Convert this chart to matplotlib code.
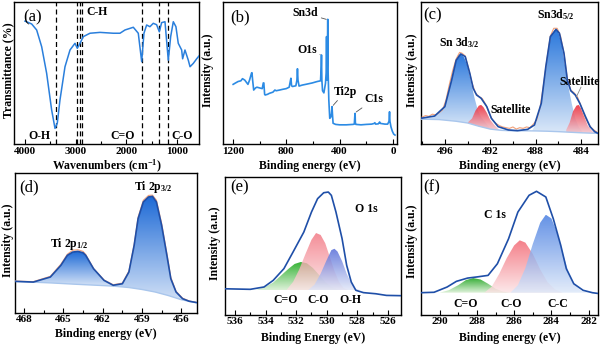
import numpy as np
import matplotlib
matplotlib.use("Agg")
import matplotlib.pyplot as plt
from matplotlib.colors import to_rgba
from matplotlib.patches import Polygon
from matplotlib.ticker import AutoMinorLocator

plt.rcParams.update({
    "font.family": "Liberation Serif",
    "font.weight": "bold",
    "mathtext.fontset": "custom",
    "mathtext.rm": "Liberation Serif:bold",
    "mathtext.bf": "Liberation Serif:bold",
    "mathtext.it": "Liberation Serif:bold:italic",
    "axes.linewidth": 1.0,
})

# ---------------- (a) FTIR ----------------
ftir_wn = [4000, 3967, 3868, 3770, 3671, 3573, 3474, 3408, 3363, 3310, 3211, 3112, 3014, 2968,
           2915, 2850, 2718, 2520, 2258, 2126, 2027, 1863, 1765, 1698, 1653, 1600, 1535, 1469,
           1403, 1350, 1304, 1238, 1173, 1126, 1074, 1022, 976, 909, 890, 844, 778, 744, 679,
           613, 567]
ftir_t = [0.865, 0.861, 0.845, 0.803, 0.685, 0.498, 0.239, 0.110, 0.146, 0.310, 0.544, 0.662,
          0.709, 0.674, 0.709, 0.756, 0.780, 0.786, 0.780, 0.780, 0.803, 0.822, 0.780, 0.580,
          0.780, 0.838, 0.826, 0.850, 0.840, 0.790, 0.855, 0.861, 0.590, 0.756, 0.861, 0.826,
          0.709, 0.662, 0.600, 0.662, 0.590, 0.544, 0.568, 0.600, 0.620]
ftir_marks = [3394, 2968, 2915, 2870, 1698, 1350, 1173]
ftir_groups = ["O-H", "C-H", "C=O", "C-O"]

# ---------------- (b) survey ----------------
surv_be = [1198, 1180, 1161, 1140, 1128, 1111, 1095, 1087, 1075, 1069, 1060, 1057, 1052, 1044,
           1030, 1020, 1000, 980, 972, 968, 962, 958, 940, 926, 900, 885, 876, 850, 827, 800,
           778, 768, 765, 760, 753, 728, 720, 716, 712, 704, 680, 654, 605, 568, 543, 538, 536,
           533, 528, 518, 506, 501, 498, 495, 492, 489, 486, 481, 474, 466, 461, 457, 453, 449,
           430, 400, 350, 300, 290, 286, 284, 282, 278, 240, 200, 160, 140, 136, 130, 110, 100,
           95, 60, 40, 30, 26, 23, 15, 5, -5, -15]
surv_int = [0.420, 0.430, 0.440, 0.445, 0.460, 0.450, 0.430, 0.420, 0.450, 0.470, 0.500, 0.502,
            0.450, 0.380, 0.395, 0.400, 0.395, 0.390, 0.430, 0.430, 0.350, 0.345, 0.350, 0.357,
            0.365, 0.380, 0.375, 0.380, 0.385, 0.390, 0.400, 0.450, 0.463, 0.410, 0.405, 0.410,
            0.450, 0.530, 0.450, 0.408, 0.415, 0.420, 0.430, 0.440, 0.445, 0.550, 0.627, 0.450,
            0.375, 0.360, 0.427, 0.500, 0.756, 0.450, 0.600, 0.878, 0.500, 0.310, 0.181, 0.190,
            0.216, 0.263, 0.200, 0.146, 0.138, 0.135, 0.135, 0.138, 0.140, 0.200, 0.216, 0.150,
            0.138, 0.135, 0.138, 0.140, 0.145, 0.150, 0.140, 0.142, 0.155, 0.145, 0.140, 0.140,
            0.160, 0.227, 0.160, 0.120, 0.090, 0.070, 0.063]

# ---------------- (c) Sn 3d ----------------
sn_env_x = [498.1, 496.9, 496.0, 495.4, 495.0, 494.6, 494.2, 493.8, 493.5, 493.2, 492.8, 492.3,
            491.9, 491.3, 490.4, 489.6, 488.7, 488.1, 487.5, 487.1, 486.7, 486.2, 485.9, 485.5,
            485.2, 484.9, 484.5, 484.1, 483.6, 483.2, 482.8, 482.5]
sn_env_y = [0.181, 0.197, 0.263, 0.450, 0.590, 0.634, 0.615, 0.498, 0.392, 0.345, 0.322, 0.263,
            0.181, 0.122, 0.099, 0.094, 0.103, 0.134, 0.286, 0.544, 0.756, 0.807, 0.780, 0.639,
            0.450, 0.375, 0.345, 0.286, 0.192, 0.122, 0.087, 0.075]
sn_raw_x = [498.0, 497.7, 497.4, 497.1, 496.8, 496.5, 496.2, 495.9, 495.6, 495.3, 495.0, 494.7,
            494.5, 494.2, 493.9, 493.6, 493.3, 493.0, 492.7, 492.4, 492.1, 491.8, 491.5, 491.2,
            490.9, 490.6, 490.3, 490.0, 489.7, 489.4, 489.1, 488.8, 488.5, 488.2, 487.9, 487.6,
            487.3, 487.0, 486.7, 486.4, 486.1, 485.8, 485.5, 485.2, 484.9, 484.6, 484.3, 484.0,
            483.7, 483.4, 483.1, 482.8, 482.6]
sn_raw_y = [0.190, 0.200, 0.195, 0.210, 0.205, 0.220, 0.240, 0.310, 0.420, 0.520, 0.600, 0.645,
            0.640, 0.620, 0.530, 0.430, 0.360, 0.335, 0.320, 0.280, 0.220, 0.170, 0.145, 0.130,
            0.120, 0.115, 0.110, 0.120, 0.105, 0.115, 0.110, 0.120, 0.115, 0.140, 0.170, 0.260,
            0.420, 0.600, 0.760, 0.815, 0.815, 0.760, 0.640, 0.460, 0.380, 0.360, 0.330, 0.270,
            0.200, 0.150, 0.115, 0.095, 0.085]
sn_bg_x = [498.1, 496.5, 495.0, 494.0, 493.0, 492.0, 491.0, 490.0, 489.0, 488.0, 487.0, 486.0,
           485.0, 484.0, 483.0, 482.5]
sn_bg_y = [0.175, 0.172, 0.160, 0.148, 0.125, 0.105, 0.096, 0.093, 0.093, 0.092, 0.090, 0.087,
           0.083, 0.079, 0.076, 0.075]
sn32_x = [498.1, 497.0, 496.3, 495.9, 495.5, 495.1, 494.8, 494.6, 494.3, 494.0, 493.7, 493.4,
          493.1, 492.8, 492.4, 492.0]
sn32_y = [0.176, 0.190, 0.230, 0.300, 0.430, 0.570, 0.625, 0.632, 0.610, 0.550, 0.440, 0.330,
          0.240, 0.190, 0.150, 0.110]
sat1_x = [494.0, 493.6, 493.3, 493.0, 492.8, 492.6, 492.3, 492.0, 491.6, 491.2]
sat1_y = [0.150, 0.180, 0.235, 0.270, 0.275, 0.260, 0.220, 0.170, 0.130, 0.098]
sn52_x = [488.3, 487.9, 487.5, 487.1, 486.7, 486.3, 486.0, 485.7, 485.4, 485.1, 484.8, 484.5,
          484.2, 483.8]
sn52_y = [0.092, 0.160, 0.280, 0.540, 0.755, 0.805, 0.790, 0.700, 0.550, 0.400, 0.280, 0.180,
          0.120, 0.078]
sat2_x = [485.3, 485.0, 484.7, 484.4, 484.2, 484.0, 483.7, 483.4, 483.0, 482.6]
sat2_y = [0.100, 0.150, 0.230, 0.270, 0.275, 0.250, 0.190, 0.130, 0.090, 0.075]

# ---------------- (d) Ti 2p ----------------
ti_env_x = [468.7, 467.3, 466.0, 465.2, 464.7, 464.3, 463.9, 463.5, 463.3, 462.7, 461.9, 461.2,
            460.5, 460.0, 459.6, 459.3, 458.9, 458.5, 458.2, 457.9, 457.5, 457.1, 456.8, 456.4,
            455.9, 455.4, 454.8]
ti_env_y = [0.226, 0.221, 0.257, 0.340, 0.412, 0.435, 0.440, 0.430, 0.412, 0.316, 0.233, 0.198,
            0.209, 0.293, 0.483, 0.674, 0.793, 0.829, 0.833, 0.793, 0.626, 0.412, 0.245, 0.150,
            0.102, 0.084, 0.074]
ti_raw_y = [0.228, 0.224, 0.262, 0.348, 0.420, 0.448, 0.452, 0.440, 0.418, 0.318, 0.236, 0.202,
            0.214, 0.300, 0.490, 0.684, 0.805, 0.840, 0.842, 0.806, 0.640, 0.425, 0.255, 0.155,
            0.106, 0.086, 0.075]
ti_bg_x = [468.7, 466.0, 464.0, 462.0, 461.2, 460.0, 459.0, 458.0, 457.0, 456.0, 455.0, 454.8]
ti_bg_y = [0.226, 0.215, 0.205, 0.196, 0.192, 0.182, 0.168, 0.150, 0.125, 0.095, 0.076, 0.072]

# ---------------- (e) O 1s ----------------
o_env_x = [536.65, 535.0, 534.1, 533.5, 532.8, 532.2, 531.5, 531.0, 530.6, 530.2, 529.9, 529.7,
           529.4, 529.0, 528.7, 528.4, 528.1, 527.6, 526.8, 526.1, 525.15]
o_env_y = [0.190, 0.186, 0.203, 0.251, 0.336, 0.457, 0.601, 0.746, 0.843, 0.886, 0.891, 0.867,
           0.746, 0.553, 0.360, 0.239, 0.179, 0.162, 0.154, 0.142, 0.140]
o_co2_x = [534.6, 534.0, 533.5, 533.0, 532.5, 532.1, 531.7, 531.3, 530.9, 530.5, 530.1, 529.7, 529.3]
o_co2_y = [0.182, 0.205, 0.235, 0.285, 0.335, 0.370, 0.384, 0.375, 0.340, 0.290, 0.240, 0.205, 0.185]
o_co_x = [532.6, 532.2, 531.8, 531.4, 531.0, 530.7, 530.4, 530.1, 529.8, 529.5, 529.2, 528.9, 528.6]
o_co_y = [0.185, 0.240, 0.330, 0.440, 0.545, 0.594, 0.580, 0.520, 0.420, 0.320, 0.240, 0.195, 0.182]
o_oh_x = [531.2, 530.8, 530.4, 530.0, 529.7, 529.5, 529.3, 529.0, 528.7, 528.4, 528.1, 527.8]
o_oh_y = [0.182, 0.220, 0.300, 0.400, 0.470, 0.480, 0.460, 0.390, 0.300, 0.230, 0.190, 0.180]

# ---------------- (f) C 1s ----------------
c_env_x = [291.0, 290.3, 289.6, 289.1, 288.5, 288.0, 287.4, 286.9, 286.3, 285.8, 285.2, 284.8,
           284.3, 283.9, 283.5, 283.2, 282.8, 282.3, 281.8, 281.4]
c_env_y = [0.157, 0.160, 0.197, 0.237, 0.260, 0.268, 0.279, 0.361, 0.537, 0.725, 0.843, 0.871,
           0.831, 0.678, 0.491, 0.326, 0.220, 0.174, 0.157, 0.150]
c_co2_x = [290.0, 289.5, 289.0, 288.6, 288.2, 287.8, 287.4, 287.0, 286.6, 286.2]
c_co2_y = [0.157, 0.175, 0.210, 0.245, 0.260, 0.250, 0.220, 0.185, 0.165, 0.157]
c_co_x = [287.6, 287.2, 286.8, 286.4, 286.0, 285.7, 285.4, 285.0, 284.6, 284.2, 283.8, 283.4]
c_co_y = [0.157, 0.200, 0.290, 0.400, 0.490, 0.526, 0.510, 0.430, 0.320, 0.230, 0.180, 0.157]
c_cc_x = [286.2, 285.8, 285.4, 285.0, 284.6, 284.3, 284.0, 283.7, 283.4, 283.1, 282.8, 282.4, 282.0]
c_cc_y = [0.157, 0.210, 0.330, 0.500, 0.650, 0.706, 0.680, 0.580, 0.440, 0.310, 0.220, 0.170, 0.157]

ENV = "#1f4fa8"
BGLINE = "#a9c6ec"
RAW = "#f2a27a"
TICK_FS = 8.0
LABEL_FS = 8.5
NOTE_FS = 8.5


def grad_fill(ax, x, top, base, c_top, c_base, alpha=1.0, z=1):
    """Fill between base and top with a vertical colour gradient."""
    x = np.asarray(x, float)
    top = np.asarray(top, float)
    base = np.broadcast_to(np.asarray(base, float), x.shape)
    verts = np.concatenate([np.column_stack([x, top]),
                            np.column_stack([x[::-1], base[::-1]])])
    patch = Polygon(verts, closed=True, facecolor="none", edgecolor="none",
                    transform=ax.transData)
    ax.add_patch(patch)
    t = np.linspace(0, 1, 200)[:, None]
    c0 = np.array(to_rgba(c_base))
    c1 = np.array(to_rgba(c_top))
    img = (c0 + (c1 - c0) * t)[:, None, :]
    im = ax.imshow(img, extent=[x.min(), x.max(), base.min(), top.max()],
                   origin="lower", aspect="auto", interpolation="bilinear",
                   alpha=alpha, zorder=z)
    im.set_clip_path(patch)


def bg_at(x, bx, by):
    return np.interp(x, bx[::-1], by[::-1])


def setup(ax, xlim, ticks, xlabel, ylabel, ylab_x, xlab_y):
    ax.set_xlim(*xlim)
    ax.set_ylim(0, 1)
    ax.set_xticks(ticks)
    ax.xaxis.set_minor_locator(AutoMinorLocator(2))
    ax.set_yticks([])
    ax.tick_params(axis="x", which="both", direction="in", labelsize=TICK_FS, pad=1.8)
    ax.tick_params(axis="x", which="major", length=3.5, width=0.8)
    ax.tick_params(axis="x", which="minor", length=2, width=0.8)
    ax.text(0.5, xlab_y, xlabel, transform=ax.transAxes, fontsize=LABEL_FS,
            fontweight="bold", ha="center", va="center")
    ax.text(ylab_x, 0.52, ylabel, transform=ax.transAxes, fontsize=LABEL_FS,
            fontweight="bold", ha="center", va="center", rotation=90)


def panel_tag(ax, x, y, s):
    ax.text(x, y, s, fontsize=12, fontweight="normal", ha="center", va="center")


def note(ax, x, y, s, size=NOTE_FS):
    ax.text(x, y, s, fontsize=size, fontweight="bold", ha="center", va="center")


fig = plt.figure(figsize=(6.0, 3.45), dpi=100)
W, H = 600.0, 345.0


def axes_px(left, top, right, bottom):
    return fig.add_axes([left / W, (H - bottom) / H, (right - left) / W, (bottom - top) / H])


ax_a = axes_px(14, 2, 199, 144)
ax_b = axes_px(223, 2, 397, 144)
ax_c = axes_px(421, 2, 598, 144)
ax_d = axes_px(15, 173, 197, 313)
ax_e = axes_px(225, 177, 401, 315)
ax_f = axes_px(421, 173, 598, 315)

# (a)
ax_a.plot(ftir_wn, ftir_t, color="#2a7fdc", lw=1.1, zorder=3)
for wn in ftir_marks:
    ax_a.axvline(wn, color="black", lw=0.9, ls=(0, (4, 2.5)), zorder=2)
setup(ax_a, (4217, 567), [4000, 3000, 2000, 1000], "Wavenumbers (cm$^{-1}$)",
      "Transmittance (%)", -0.032, -0.158)
panel_tag(ax_a, 3842, 0.894, "(a)")
note(ax_a, 2580, 0.93, ftir_groups[1])
note(ax_a, 3724, 0.056, ftir_groups[0])
note(ax_a, 2067, 0.056, ftir_groups[2])
note(ax_a, 903, 0.056, ftir_groups[3])

# (b)
ax_b.plot(surv_be, surv_int, color="#2c8be4", lw=1.2, zorder=3)
setup(ax_b, (1274, -30), [1200, 800, 400, 0], "Binding energy (eV)",
      "Intensity (a.u.)", -0.086, -0.152)
panel_tag(ax_b, 1148, 0.894, "(b)")
lead = dict(arrowstyle="-", color="#555555", lw=0.6, shrinkA=0, shrinkB=1)
ax_b.annotate("Sn3d", xy=(490, 0.875), xytext=(654, 0.92), fontsize=NOTE_FS,
              fontweight="bold", ha="center", va="center", arrowprops=lead)
ax_b.annotate("O1s", xy=(536, 0.627), xytext=(642, 0.662), fontsize=NOTE_FS,
              fontweight="bold", ha="center", va="center", arrowprops=lead)
ax_b.annotate("Ti2p", xy=(455, 0.265), xytext=(358, 0.368), fontsize=NOTE_FS,
              fontweight="bold", ha="center", va="center", arrowprops=lead)
ax_b.annotate("C1s", xy=(284, 0.22), xytext=(141, 0.315), fontsize=NOTE_FS,
              fontweight="bold", ha="center", va="center", arrowprops=lead)

# (c)
sbx = np.array(sn_bg_x)
sby = np.array(sn_bg_y)
for cx, cy in [(sn32_x, sn32_y), (sn52_x, sn52_y)]:
    grad_fill(ax_c, cx, cy, bg_at(np.array(cx), sbx, sby), "#2b78dc", "#dbe8f8", z=1)
for cx, cy in [(sat1_x, sat1_y), (sat2_x, sat2_y)]:
    grad_fill(ax_c, cx, cy, bg_at(np.array(cx), sbx, sby), "#ea1c2c", "#f2c4cc",
              alpha=0.85, z=2)
ax_c.plot(sn_bg_x, sn_bg_y, color=BGLINE, lw=1.0, zorder=3)
ax_c.plot(sn_raw_x, sn_raw_y, color=RAW, lw=0.8, zorder=4)
ax_c.plot(sn_env_x, sn_env_y, color=ENV, lw=1.2, zorder=5)
setup(ax_c, (498.1, 482.5), [496, 492, 488, 484], "Binding energy (eV)",
      "Intensity (a.u.)", -0.052, -0.152)
panel_tag(ax_c, 497.05, 0.908, "(c)")
note(ax_c, 494.7, 0.711, "Sn 3d$_{3/2}$")
note(ax_c, 486.25, 0.908, "Sn3d$_{5/2}$")
note(ax_c, 490.2, 0.239, "Satellite")
note(ax_c, 484.1, 0.439, "Satellite")
ax_c.plot([484.0, 484.4], [0.40, 0.333], color="#888888", lw=0.6, zorder=6)

# (d)
tex = np.array(ti_env_x)
tey = np.array(ti_env_y)
tbg = bg_at(tex, np.array(ti_bg_x), np.array(ti_bg_y))
split = ti_env_x.index(461.2)
grad_fill(ax_d, tex[:split + 1], tey[:split + 1], tbg[:split + 1], "#1e6ad6", "#d5e3f7", z=1)
grad_fill(ax_d, tex[split:], tey[split:], tbg[split:], "#1e6ad6", "#d5e3f7", z=1)
ax_d.plot(ti_bg_x, ti_bg_y, color=BGLINE, lw=1.0, zorder=3)
ax_d.plot(ti_env_x, ti_raw_y, color=RAW, lw=0.8, zorder=4)
ax_d.plot(ti_env_x, ti_env_y, color=ENV, lw=1.2, zorder=5)
setup(ax_d, (468.7, 454.8), [468, 465, 462, 459, 456], "Binding energy (eV)",
      "Intensity (a.u.)", -0.037, -0.148)
panel_tag(ax_d, 467.6, 0.9, "(d)")
note(ax_d, 464.56, 0.493, "Ti 2p$_{1/2}$")
note(ax_d, 458.15, 0.9, "Ti 2p$_{3/2}$")

# (e)
grad_fill(ax_e, o_co2_x, o_co2_y, 0.18, "#1aa81a", "#d9f0d4", alpha=0.9, z=1)
grad_fill(ax_e, o_co_x, o_co_y, 0.18, "#f2707c", "#fbe3e5", alpha=0.8, z=2)
grad_fill(ax_e, o_oh_x, o_oh_y, 0.18, "#4a62d6", "#dfe5f7", alpha=0.8, z=3)
ax_e.plot(o_env_x, o_env_y, color=ENV, lw=1.2, zorder=5)
setup(ax_e, (536.65, 525.15), [536, 534, 532, 530, 528, 526], "Binding Energy (eV)",
      "Intensity (a.u.)", -0.057, -0.166)
panel_tag(ax_e, 535.67, 0.928, "(e)")
note(ax_e, 527.4, 0.768, "O 1s")
note(ax_e, 532.67, 0.109, "C=O")
note(ax_e, 530.58, 0.109, "C-O")
note(ax_e, 528.48, 0.109, "O-H")

# (f)
grad_fill(ax_f, c_co2_x, c_co2_y, 0.157, "#23a623", "#dff2da", alpha=0.9, z=1)
grad_fill(ax_f, c_co_x, c_co_y, 0.157, "#f2606c", "#fce4e6", alpha=0.8, z=2)
grad_fill(ax_f, c_cc_x, c_cc_y, 0.157, "#3f78e0", "#dde8f9", alpha=0.8, z=3)
ax_f.plot(c_env_x, c_env_y, color=ENV, lw=1.2, zorder=5)
setup(ax_f, (291.0, 281.5), [290, 288, 286, 284, 282], "Binding energy (eV)",
      "Intensity (a.u.)", -0.052, -0.162)
panel_tag(ax_f, 290.43, 0.9, "(f)")
note(ax_f, 287.03, 0.704, "C 1s")
note(ax_f, 288.6, 0.077, "C=O")
note(ax_f, 286.16, 0.077, "C-O")
note(ax_f, 283.68, 0.077, "C-C")

fig.savefig("out.png", dpi=100)
